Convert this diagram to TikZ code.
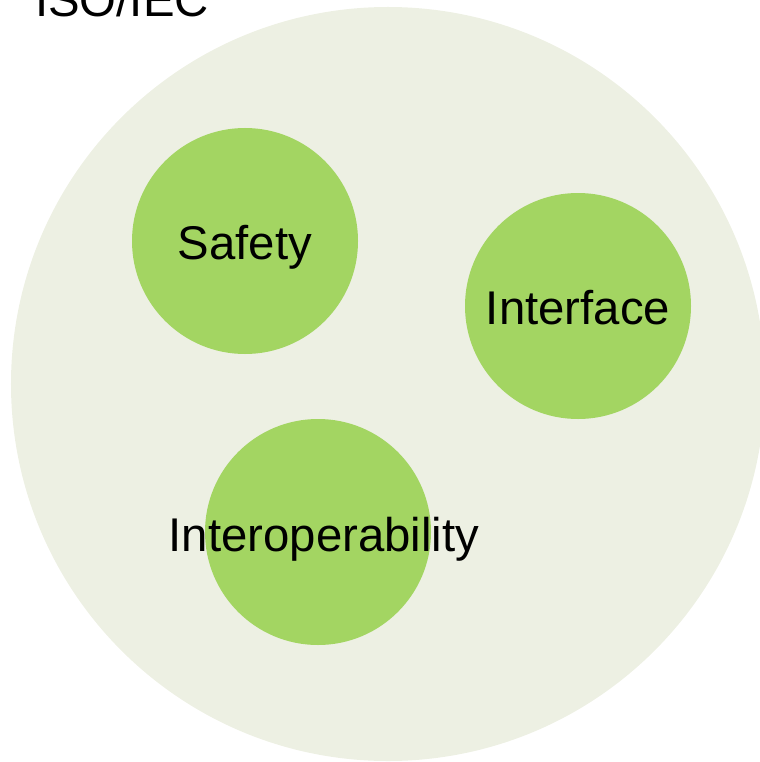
\documentclass[tikz,border=0pt]{standalone}
\usepackage{fontspec}
\setmainfont{Liberation Sans}
\definecolor{outerfill}{HTML}{EDF0E3}
\definecolor{topicfill}{HTML}{A3D562}
\begin{document}
\begin{tikzpicture}[x=1bp,y=-1bp,
  topic/.style={circle,fill=topicfill,draw=none,minimum size=226bp,inner sep=0pt},
  lbl/.style={anchor=base,inner sep=0pt,font=\fontsize{47.5}{57}\selectfont}]
  \useasboundingbox (0,0) rectangle (760,762);
  \clip (0,0) rectangle (760,762);
  % standards body circle
  \node[circle,fill=outerfill,minimum size=754bp,inner sep=0pt] (iso) at (388,384) {};
  \node[lbl,anchor=base west] (isotext) at (35,17) {ISO/IEC};
  % topic circles
  \node[topic] (safety) at (245,241) {};
  \node[topic] (interface) at (578,306) {};
  \node[topic] (interop) at (318,532) {};
  \node[lbl] (safetytext) at (245,259) {Safety};
  \node[lbl] (interfacetext) at (578,324) {Interface};
  \node[lbl] (interoptext) at (324,551) {Interoperability};
\end{tikzpicture}
\end{document}
